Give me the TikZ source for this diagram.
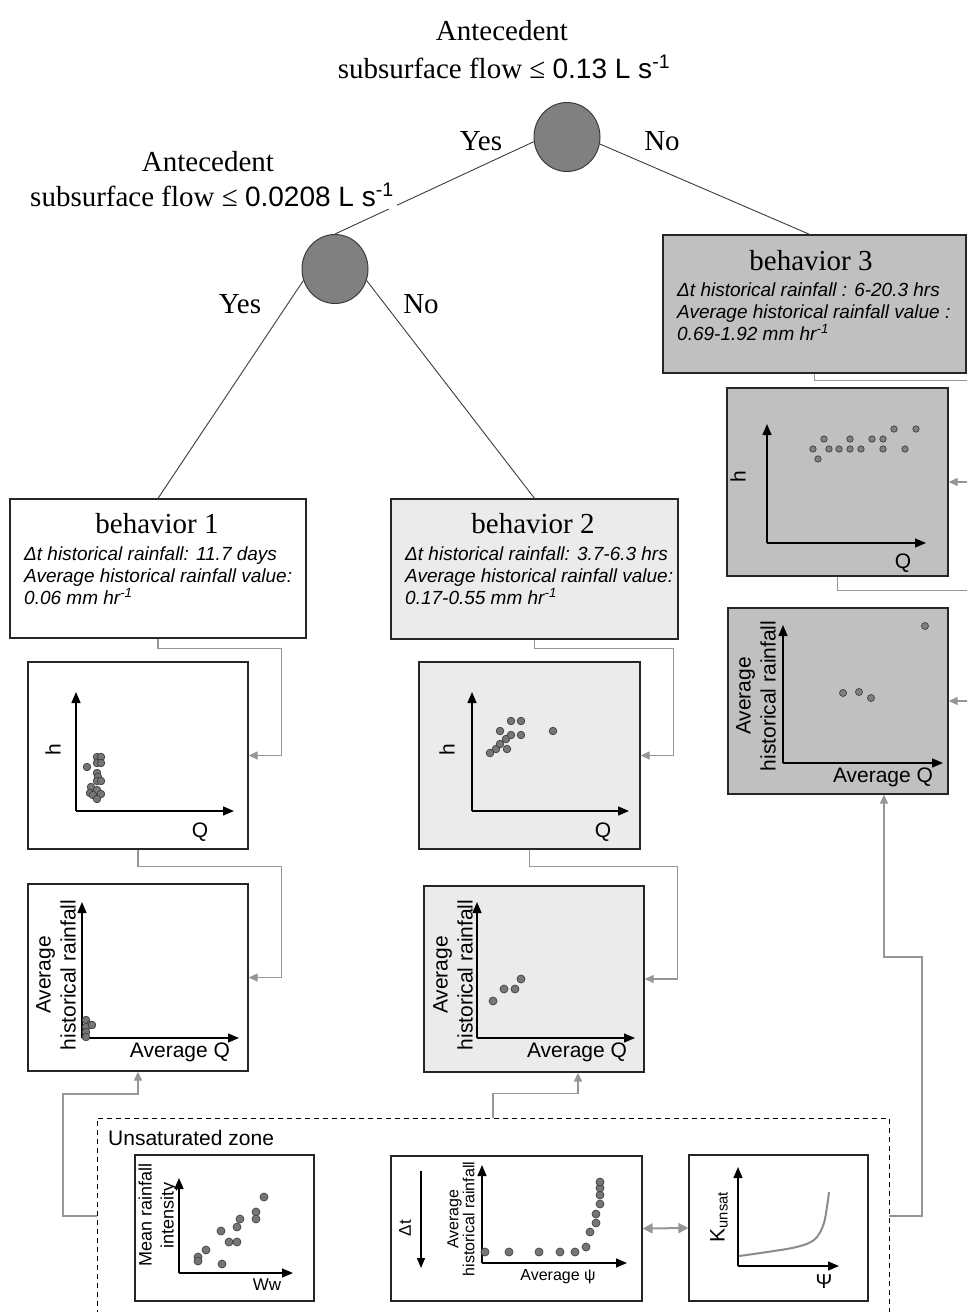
\documentclass[tikz,border=0pt]{standalone}
\usepackage{fontspec}
\setmainfont{Liberation Serif}
\newfontfamily\arialf{Liberation Sans}
\usetikzlibrary{arrows.meta,shapes.geometric}
\definecolor{conncol}{RGB}{150,150,150}
\definecolor{decfill}{RGB}{128,128,128}
\definecolor{lightfill}{RGB}{235,235,235}
\definecolor{midfill}{RGB}{192,192,192}
\definecolor{linecol}{RGB}{60,60,60}
\definecolor{dotfill}{RGB}{118,118,118}
\definecolor{curvecol}{RGB}{140,140,140}
\tikzset{
  decision/.style={ellipse, draw=linecol, fill=decfill, line width=1pt, minimum width=66pt, minimum height=69pt, inner sep=0pt},
  treeline/.style={draw=linecol, line width=0.9pt},
  frame/.style={rectangle, draw=black!85, line width=1.3pt, inner sep=0pt},
  conn/.style={draw=conncol, line width=1.3pt, -{Triangle[length=9pt,width=8pt]}},
  biconn/.style={draw=conncol, line width=2pt, {Triangle[length=10pt,width=10pt]}-{Triangle[length=10pt,width=10pt]}},
  axisarrow/.style={draw=black, line width=1.4pt, -{Triangle[length=11pt,width=9pt]}},
  dotmark/.style={draw=black!75, fill=dotfill, line width=0.7pt},
  serifbig/.style={font=\fontsize{29}{34}\selectfont, inner sep=0pt},
  infotext/.style={font=\arialf\itshape\fontsize{19}{22}\selectfont, anchor=base west, inner sep=0pt},
  axlabel/.style={font=\arialf\fontsize{21}{25}\selectfont, inner sep=0pt, align=center},
  smalllabel/.style={font=\arialf\fontsize{17}{20}\selectfont, inner sep=0pt, align=center},
}
\begin{document}
\begin{tikzpicture}[x=1pt,y=-1pt]
\useasboundingbox (0,0) rectangle (967,1312);
\clip (0,0) rectangle (967,1312);

% ---------- decision nodes and behaviour boxes
\node[decision] (c1) at (567,137) {};
\node[decision] (c2) at (335,269) {};
\node[frame, fill=white, minimum width=296pt, minimum height=139pt] (b1) at (158,568.5) {};
\node[frame, fill=lightfill, minimum width=287pt, minimum height=140pt] (b2) at (534.5,569) {};
\node[frame, fill=midfill, minimum width=303pt, minimum height=138pt] (b3) at (814.5,304) {};

% ---------- plot frames
\node[frame, fill=white, minimum width=220pt, minimum height=187pt] (p1h) at (138,755.5) {};
\node[frame, fill=white, minimum width=220pt, minimum height=187pt] (p1a) at (138,977.5) {};
\node[frame, fill=lightfill, minimum width=221pt, minimum height=187pt] (p2h) at (529.5,755.5) {};
\node[frame, fill=lightfill, minimum width=220pt, minimum height=186pt] (p2a) at (534,979) {};
\node[frame, fill=midfill, minimum width=221pt, minimum height=188pt] (p3h) at (837.5,482) {};
\node[frame, fill=midfill, minimum width=220pt, minimum height=186pt] (p3a) at (838,701) {};

% ---------- unsaturated zone
\node[rectangle, draw=black, line width=1pt, dash pattern=on 5pt off 4pt, minimum width=792pt, minimum height=222pt, inner sep=0pt] (uz) at (493,1229) {};
\node[font=\arialf\fontsize{21}{25}\selectfont, anchor=base west, inner sep=0pt] (uzt) at (108,1145) {Unsaturated zone};
\node[frame, fill=white, minimum width=179pt, minimum height=146pt] (u1) at (224.5,1228) {};
\node[frame, fill=white, minimum width=251pt, minimum height=145pt] (u2) at (516.5,1228.5) {};
\node[frame, fill=white, minimum width=179pt, minimum height=146pt] (u3) at (778.5,1228) {};

% ---------- tree edges
\draw[treeline] (c1.188) -- (c2.north);
\draw[treeline] (c1.-12) -- ([xshift=-5pt]b3.north);
\draw[treeline] (c2.200) -- (b1.north);
\draw[treeline] (c2.-20) -- (b2.north);

% ---------- tree labels
\node[serifbig, anchor=base] (q1a) at (502,40) {Antecedent};
\node[serifbig, anchor=base] (q1b) at (504,78) {subsurface flow ≤ {\arialf\fontsize{28}{32}\selectfont 0.13 L s\textsuperscript{-1}}};
\node[serifbig, anchor=base] (q2a) at (208,171) {Antecedent};
\node[serifbig, anchor=base, fill=white, inner sep=3pt] (q2b) at (212,206) {subsurface flow ≤ {\arialf\fontsize{28}{32}\selectfont 0.0208 L s\textsuperscript{-1}}};
\node[serifbig, anchor=base] (y1) at (481,150) {Yes};
\node[serifbig, anchor=base] (n1) at (662,150) {No};
\node[serifbig, anchor=base] (y2) at (240,313) {Yes};
\node[serifbig, anchor=base] (n2) at (421,313) {No};

% ---------- behaviour texts
\node[serifbig, anchor=base] (b1t) at (157,533) {behavior 1};
\node[infotext] (b1l1) at (24,560) {Δt historical rainfall: 11.7 days};
\node[infotext] (b1l2) at (24,582) {Average historical rainfall value:};
\node[infotext] (b1l3) at (24,604) {0.06 mm hr\textsuperscript{-1}};

\node[serifbig, anchor=base] (b2t) at (533,533) {behavior 2};
\node[infotext] (b2l1) at (405,560) {Δt historical rainfall: 3.7-6.3 hrs};
\node[infotext] (b2l2) at (405,582) {Average historical rainfall value:};
\node[infotext] (b2l3) at (405,604) {0.17-0.55 mm hr\textsuperscript{-1}};

\node[serifbig, anchor=base] (b3t) at (811,270) {behavior 3};
\node[infotext] (b3l1) at (677,296) {Δt historical rainfall : 6-20.3 hrs};
\node[infotext] (b3l2) at (677,318) {Average historical rainfall value :};
\node[infotext] (b3l3) at (677,340) {0.69-1.92 mm hr\textsuperscript{-1}};

% ---------- plot 1 h-Q
\draw[axisarrow] (76,811) -- (76,692);
\draw[axisarrow] (76,811) -- (234,811);
\foreach \px/\py in {87/767,97/757,101/757,97/763,101/763,97/773,98/777,97/781,101/781,91/787,90/793,97/790,101/794,93/795,97/799}
  \draw[dotmark] (\px,\py) circle[radius=3.8pt];
\node[axlabel, rotate=90] (p1hy) at (53,750) {h};
\node[axlabel] (p1hx) at (200,832) {Q};

% ---------- plot 1 rain-Q
\draw[axisarrow] (82,1038) -- (82,902);
\draw[axisarrow] (82,1038) -- (239,1038);
\foreach \px/\py in {86/1020,90/1025,86/1027,92/1025,86/1032,86/1037}
  \draw[dotmark] (\px,\py) circle[radius=3.8pt];
\node[axlabel, rotate=90] (p1ay) at (56,975) {Average\\historical rainfall};
\node[axlabel] (p1ax) at (180,1052) {Average Q};

% ---------- plot 2 h-Q
\draw[axisarrow] (472,811) -- (472,692);
\draw[axisarrow] (472,811) -- (629,811);
\foreach \px/\py in {490/753,496/749,500/744,507/749,506/739,511/735,500/731,511/721,521/721,521/735,553/731}
  \draw[dotmark] (\px,\py) circle[radius=3.8pt];
\node[axlabel, rotate=90] (p2hy) at (447,750) {h};
\node[axlabel] (p2hx) at (603,832) {Q};

% ---------- plot 2 rain-Q
\draw[axisarrow] (477,1038) -- (477,902);
\draw[axisarrow] (477,1038) -- (635,1038);
\foreach \px/\py in {493/1001,504/989,515/989,521/979}
  \draw[dotmark] (\px,\py) circle[radius=4pt];
\node[axlabel, rotate=90] (p2ay) at (453,975) {Average\\historical rainfall};
\node[axlabel] (p2ax) at (577,1052) {Average Q};

% ---------- plot 3 h-Q
\draw[axisarrow] (767,543) -- (767,424);
\draw[axisarrow] (767,543) -- (926,543);
\foreach \px/\py in {813/449,818/459,824/439,829/449,839/449,850/449,850/439,861/449,872/439,883/439,883/449,894/429,905/449,916/429}
  \draw[dotmark, fill=gray] (\px,\py) circle[radius=3.2pt];
\node[axlabel, rotate=90] (p3hy) at (738,477) {h};
\node[axlabel] (p3hx) at (903,563) {Q};

% ---------- plot 3 rain-Q
\draw[axisarrow] (783,763) -- (783,625);
\draw[axisarrow] (783,763) -- (943,763);
\foreach \px/\py in {843/693,859/692,871/698,925/626}
  \draw[dotmark, fill=gray] (\px,\py) circle[radius=3.5pt];
\node[axlabel, rotate=90] (p3ay) at (756,696) {Average\\historical rainfall};
\node[axlabel] (p3ax) at (883,777) {Average Q};

% ---------- unsaturated plot 1
\draw[axisarrow] (179,1273) -- (179,1178);
\draw[axisarrow] (179,1273) -- (293,1273);
\foreach \px/\py in {198/1257,198/1261,206/1250,222/1264,221/1231,229/1242,237/1242,237/1227,240/1219,256/1212,256/1219,264/1197}
  \draw[dotmark] (\px,\py) circle[radius=4pt];
\node[font=\arialf\fontsize{18}{22}\selectfont, inner sep=0pt, align=center, rotate=90] (u1y) at (158,1215) {Mean rainfall\\intensity};
\node[smalllabel] (u1x) at (267,1285) {Ww};

% ---------- unsaturated plot 2
\draw[draw=black, line width=1.2pt, -{Triangle[length=10pt,width=8pt]}] (421,1171) -- (421,1268);
\node[smalllabel, rotate=90] (u2d) at (405,1228) {Δt};
\draw[axisarrow] (482,1263) -- (482,1165);
\draw[axisarrow] (482,1263) -- (627,1263);
\foreach \px/\py in {485/1252,509/1252,539/1252,560/1252,575/1252,586/1247,590/1232,596/1223,596/1214,600/1204,600/1195,600/1188,600/1182}
  \draw[dotmark] (\px,\py) circle[radius=4pt];
\node[font=\arialf\fontsize{16}{16}\selectfont, inner sep=0pt, align=center, rotate=90] (u2y) at (461,1219) {Average\\historical rainfall};
\node[font=\arialf\fontsize{16}{18}\selectfont, inner sep=0pt] (u2x) at (558,1277) {Average ψ};

% ---------- unsaturated plot 3
\draw[axisarrow] (738,1266) -- (738,1167);
\draw[axisarrow] (738,1266) -- (839,1266);
\draw[draw=curvecol, line width=2pt] plot[smooth] coordinates {(739,1256) (792,1248) (814,1240) (824,1223) (829,1192)};
\node[font=\arialf\fontsize{21}{24}\selectfont, inner sep=0pt, rotate=90] (u3y) at (719,1217) {K\textsubscript{unsat}};
\node[font=\arialf\fontsize{20}{24}\selectfont, inner sep=0pt] (u3x) at (824,1282) {Ψ};

% ---------- connectors
\draw[conn] (b1.south) -- ++(0,10) -| ([xshift=33pt]p1h.east) -- (p1h.east);
\draw[conn] (p1h.south) -- ++(0,17) -| ([xshift=33pt]p1a.east) -- (p1a.east);
\draw[conn] (b2.south) -- ++(0,9) -| ([xshift=33pt]p2h.east) -- (p2h.east);
\draw[conn] (p2h.south) -- ++(0,17) -| ([xshift=33pt]p2a.east) -- (p2a.east);
\draw[conn] (b3.south) -- ++(0,7) -| ([xshift=40pt]p3h.east) -- (p3h.east);
\draw[conn] (p3h.south) -- ++(0,14) -| ([xshift=40pt]p3a.east) -- (p3a.east);
\coordinate (uzl) at (97,1216);
\coordinate (uzr) at (889,1216);
\draw[conn] (uzl) -- ++(-34,0) -- ++(0,-122) -| (p1a.south);
\draw[conn] (uz.north) -- ++(0,-24) -| ([xshift=44pt]p2a.south);
\draw[conn] (uzr) -- ++(33,0) -- ++(0,-259) -| ([xshift=46pt]p3a.south);
\draw[biconn] (u2.east) -- (u3.west);
\end{tikzpicture}
\end{document}
